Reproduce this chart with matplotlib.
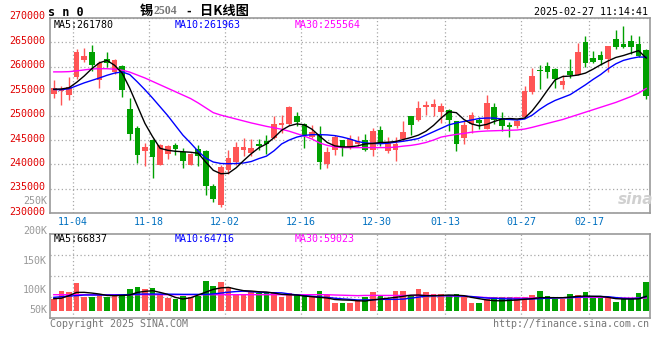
import numpy as np
import matplotlib
matplotlib.use('Agg')
import matplotlib.pyplot as plt
import matplotlib.transforms as mtransforms

# daily candles, left to right
opens  = [254420, 255110, 254290, 257840, 261320, 263090, 257360, 261520, 258860, 260160,
          251350, 247470, 242690, 244940, 239960, 242210, 244050, 242480, 239960, 243170,
          242760, 235660, 231770, 238940, 240510, 243030, 242350, 244260, 244870, 245420,
          248010, 248280, 249920, 248220, 245690, 246100, 240170, 243030, 245010, 243580,
          244190, 244940, 243030, 247060, 242690, 243030, 245280, 249920, 249170, 251830,
          251830, 250740, 251220, 248830, 245490, 248280, 249170, 247330, 251760, 249510,
          248150, 247810, 249750, 254830, 259400, 260090, 259540, 256340, 259200, 258380,
          265070, 261790, 262340, 261590, 265680, 264730, 265270, 264660, 263430]
highs  = [257360, 255990, 257840, 263640, 263840, 264520, 261110, 263090, 261520, 260430,
          253610, 247810, 244390, 245280, 244190, 244050, 244330, 243370, 242350, 244050,
          243030, 236070, 239960, 242890, 244600, 245420, 245210, 245280, 245960, 249850,
          250190, 251970, 250740, 248560, 248010, 247940, 243510, 246100, 245010, 245960,
          245760, 246240, 247470, 247880, 245560, 245560, 248900, 249920, 252990, 252990,
          253400, 252580, 251420, 248830, 248900, 250740, 249790, 254290, 252580, 250740,
          248690, 249170, 256000, 259750, 260430, 260970, 259750, 258380, 261590, 264860,
          266230, 263160, 263160, 264250, 267590, 268280, 266570, 266230, 263700]
lows   = [253610, 252100, 253260, 257500, 260970, 259060, 255650, 259880, 258520, 253810,
          245010, 240300, 239620, 237230, 239820, 241190, 241870, 239280, 239820, 239620,
          233820, 232320, 231360, 238050, 239960, 241670, 241670, 243030, 242210, 245280,
          246440, 248150, 247810, 243370, 245420, 239140, 239280, 242010, 241800, 243240,
          243710, 242690, 241670, 243710, 242420, 240780, 244870, 246100, 248830, 250060,
          249990, 248490, 246780, 242830, 244190, 246440, 247330, 247330, 248280, 246780,
          245560, 247470, 249510, 254420, 255520, 257700, 255650, 255520, 257700, 258250,
          259880, 260770, 260430, 258860, 263700, 263840, 262610, 261930, 253470]
closes = [255650, 255450, 255860, 263020, 262200, 260430, 260770, 260700, 261320, 255310,
          246240, 242010, 243510, 241600, 244050, 243780, 243240, 240640, 242210, 241670,
          235530, 232930, 239480, 241320, 243580, 243580, 243370, 243780, 244190, 248280,
          248560, 251700, 248690, 246100, 246650, 240510, 242550, 245620, 243580, 245280,
          244740, 242890, 246850, 244600, 244460, 244260, 246650, 248150, 251560, 252100,
          252380, 251970, 249100, 244260, 248080, 250060, 248420, 252580, 249170, 247940,
          247670, 248830, 255000, 258040, 259060, 258930, 257560, 257150, 258250, 263020,
          260770, 260970, 261450, 264250, 263980, 264110, 264110, 262130, 254080]
volumes = [54400, 93000, 87000, 128800, 65100, 65100, 73000, 65100, 66500, 69800,
           100900, 110200, 99000, 105600, 77700, 59100, 54400, 69800, 61800, 69800,
           138100, 114900, 133500, 108300, 75800, 75800, 85100, 80400, 80400, 85100,
           63700, 80400, 75800, 75800, 63700, 91600, 73000, 37200, 37200, 37200,
           49800, 65100, 87000, 73000, 55800, 91600, 91600, 69800, 100900, 88400,
           75800, 75800, 68400, 75800, 65100, 37200, 37200, 54400, 61800, 63700,
           61800, 61800, 61800, 73000, 91600, 69800, 54400, 54400, 77700, 73000,
           87000, 65100, 65100, 65100, 41900, 54400, 54400, 82300, 134900]

# moving averages as drawn on the chart
ma5  = [255400, 255450, 255700, 256800, 258100, 259600, 260800, 261300, 260300, 258700,
        255600, 252000, 248400, 245700, 243300, 242900, 242700, 242600, 242500, 242300,
        240500, 238800, 238100, 238200, 239300, 240800, 242200, 243400, 244200, 245500,
        247000, 247900, 248300, 248100, 247200, 245800, 244500, 243800, 243600, 243600,
        243800, 244200, 244300, 244500, 244550, 244700, 245100, 245500, 246000, 246800,
        248000, 249500, 250800, 250600, 249200, 248300, 247900, 248200, 248800, 249300,
        249400, 249300, 249500, 251000, 253000, 255200, 257300, 258000, 258100, 258300,
        258700, 259500, 260400, 261200, 261900, 262300, 262800, 263300, 261780]
ma10 = [255350, 255300, 255500, 256100, 256700, 257200, 257700, 258250, 258700, 258950,
        258400, 256900, 255300, 253600, 251800, 250000, 248000, 246000, 244400, 242700,
        241300, 240500, 240200, 240150, 240200, 240300, 240600, 241200, 241700, 242800,
        244200, 245000, 245600, 245950, 246100, 246100, 246050, 245900, 245600, 245200,
        244700, 244400, 244300, 244250, 244350, 244550, 244750, 245000, 245300, 246000,
        246700, 247400, 248100, 248500, 248800, 249100, 249400, 249500, 249500, 249300,
        249200, 249100, 249300, 250100, 251300, 252300, 253100, 253700, 254300, 255300,
        256300, 257400, 258400, 259600, 260600, 261300, 261700, 262000, 261963]
ma30 = [258950, 258950, 259000, 259150, 259350, 259550, 259600, 259600, 259500, 259300,
        258900, 258300, 257700, 257000, 256300, 255600, 254900, 254200, 253500, 252600,
        251600, 250600, 250100, 249700, 249300, 248900, 248500, 248150, 247800, 247500,
        247200, 246800, 246300, 245800, 245200, 244400, 243900, 243600, 243450, 243450,
        243450, 243450, 243450, 243450, 243450, 243550, 243750, 243900, 244150, 244500,
        245000, 245600, 245900, 246150, 246350, 246600, 246750, 246850, 246900, 246950,
        247000, 247050, 247250, 247600, 248000, 248400, 248800, 249200, 249700, 250200,
        250700, 251200, 251700, 252200, 252700, 253300, 253900, 254600, 255564]
vol_ma5  = [55800, 58000, 70000, 85000, 85300, 82000, 77500, 71000, 69800, 71000,
            72900, 85000, 90000, 93000, 85000, 76000, 62000, 54300, 60000, 72900,
            86000, 99200, 106000, 108500, 100000, 93000, 91500, 88000, 86800, 82000,
            76000, 74000, 72900, 68000, 65000, 62000, 58900, 52000, 50000, 49000,
            46000, 45000, 50000, 54000, 58000, 62000, 67000, 72000, 72900, 70000,
            69800, 71000, 72900, 72000, 69800, 62000, 55800, 50000, 46500, 46000,
            48000, 49600, 53000, 56000, 60500, 61000, 60500, 60500, 63000, 66700,
            68000, 67000, 66700, 62000, 56000, 54300, 54300, 55000, 66837]
vol_ma10 = [62000, 65000, 68000, 70000, 72900, 72900, 72900, 72900, 73000, 74000,
            75000, 77000, 77500, 77500, 77500, 77000, 76500, 76000, 76000, 76000,
            76000, 78000, 82000, 86000, 89000, 91000, 88000, 86000, 84000, 83700,
            83000, 78000, 73000, 70000, 67000, 64000, 62000, 58000, 55000, 52700,
            50000, 50000, 51000, 52700, 52700, 52700, 54000, 58000, 63000, 68000,
            69000, 69800, 69800, 69000, 68200, 66000, 62000, 59000, 57000, 55800,
            54500, 54300, 54300, 54300, 56000, 58000, 59000, 60500, 61000, 63000,
            65000, 66000, 66000, 65000, 61000, 57400, 56000, 58000, 64716]
vol_ma30 = [74400, 74400, 74400, 74400, 74400, 74400, 74400, 74400, 74400, 74400,
            74400, 74400, 74400, 74400, 74400, 74400, 74400, 74400, 74400, 74400,
            74400, 74400, 74400, 74400, 74400, 74400, 74400, 74400, 74400, 74400,
            74400, 74400, 74400, 74400, 74400, 74400, 74400, 73000, 72000, 71000,
            70000, 71000, 71000, 71000, 71000, 71000, 71000, 71000, 71000, 71000,
            71000, 70000, 69000, 68000, 67000, 65000, 63000, 61000, 58900, 58900,
            58900, 58900, 58900, 58900, 60500, 60500, 60500, 60500, 60500, 62000,
            62000, 62000, 62000, 62000, 59000, 59000, 59000, 59000, 59023]

date_labels = ['11-04', '11-18', '12-02', '12-16', '12-30', '01-13', '01-27', '02-17']
date_index  = [3, 13, 23, 33, 43, 52, 62, 71]
price_ticks = [230000, 235000, 240000, 245000, 250000, 255000, 260000, 265000, 270000]
vol_tick_labels = ['250K', '200K', '150K', '100K', '50K']

RED = '#FF5555'
GREEN = '#00A000'
GRID = '#A8A8A8'
FRAME = '#999999'
MONO = 'DejaVu Sans Mono'
CJK = ['Noto Sans CJK SC', 'DejaVu Sans']

n = len(closes)
x = np.arange(n)
o = np.array(opens); c = np.array(closes)
colors = [RED if c[i] >= o[i] else GREEN for i in range(n)]

W, H = 660, 360
fig = plt.figure(figsize=(6.6, 3.6), dpi=100)

def px(x0, y0, x1, y1):
    return [x0 / W, 1 - y1 / H, (x1 - x0) / W, (y1 - y0) / H]

ax = fig.add_axes(px(50, 17.9, 650, 213.3))
axv = fig.add_axes(px(50, 234.3, 650, 318.3))

# price panel
ax.vlines(x, lows, highs, colors=colors, linewidth=1)
body_low = np.minimum(o, c)
body_h = np.maximum(np.abs(c - o), 120)
ax.bar(x, body_h, bottom=body_low, width=0.74, color=colors, linewidth=0)
ax.plot(x, ma30, color='#FF00FF', lw=1)
ax.plot(x, ma10, color='#0000FF', lw=1)
ax.plot(x, ma5, color='black', lw=1)

ax.set_xlim(-0.5, n - 0.5)
ax.set_ylim(230000, 270000)
ax.set_yticks(price_ticks)
ax.set_yticklabels([str(t) for t in price_ticks])
ax.set_xticks([i - 0.5 for i in date_index])
ax.set_xticklabels(date_labels)
ax.tick_params(axis='y', length=0, pad=3.5, labelsize=7.2, labelcolor='#E00000')
ax.tick_params(axis='x', length=0, pad=3, labelsize=7.2, labelcolor='#0070C0')
for lab in ax.get_yticklabels() + ax.get_xticklabels():
    lab.set_family(MONO)
shift = mtransforms.ScaledTranslation(0, 0.025, fig.dpi_scale_trans)
for lab in ax.get_yticklabels():
    lab.set_transform(lab.get_transform() + shift)
ax.grid(True, color=GRID, linestyle=(0, (1, 2)), linewidth=0.9)
ax.set_axisbelow(True)

# volume panel, 0 sits a few pixels above the frame bottom
vlow, vhigh = -35350, 355250
axv.bar(x, volumes, width=0.74, color=colors, linewidth=0)
axv.plot(x, vol_ma30, color='#FF00FF', lw=1)
axv.plot(x, vol_ma10, color='#0000FF', lw=1)
axv.plot(x, vol_ma5, color='black', lw=1)
axv.set_xlim(-0.5, n - 0.5)
axv.set_ylim(vlow, vhigh)
axv.set_yticks([vlow + f * (vhigh - vlow) for f in (0.25, 0.5, 0.75)])
axv.set_xticks([i - 0.5 for i in date_index])
axv.tick_params(length=0, labelleft=False, labelbottom=False)
axv.grid(True, color=GRID, linestyle=(0, (1, 2)), linewidth=0.9)
axv.set_axisbelow(True)

for a in (ax, axv):
    for s in a.spines.values():
        s.set_color(FRAME)
        s.set_linewidth(1.2)

# volume labels sit where the original image puts them
for lab, yy in zip(vol_tick_labels, [201, 231, 261, 290, 310]):
    fig.text(47 / W, 1 - yy / H, lab, ha='right', va='center', fontsize=7.2,
             family=MONO, color='#999999')

# legends
for a, vals, yy in ((ax, ('MA5:261780', 'MA10:261963', 'MA30:255564'), 24.5),
                    (axv, ('MA5:66837', 'MA10:64716', 'MA30:59023'), 238.5)):
    for txt, xx, col in zip(vals, (54, 175, 295), ('black', '#0000FF', '#FF00FF')):
        fig.text(xx / W, 1 - yy / H, txt, ha='left', va='center', fontsize=7.2,
                 family=MONO, color=col)

# header
fig.text(48 / W, 1 - 12 / H, 's n 0', ha='left', va='center', fontsize=8.5,
         family=MONO, fontweight='bold', color='black')
fig.text(140 / W, 1 - 11 / H, '锡', ha='left', va='center', fontsize=9.5,
         family=CJK, fontweight='bold', color='black')
fig.text(153.5 / W, 1 - 11.5 / H, '2504', ha='left', va='center', fontsize=8.5,
         family='Liberation Serif', fontweight='bold', color='#777777')
fig.text(186 / W, 1 - 11 / H, '-', ha='left', va='center', fontsize=9,
         family=CJK, fontweight='bold', color='black')
fig.text(200 / W, 1 - 11 / H, '日K线图', ha='left', va='center', fontsize=9.5,
         family=CJK, fontweight='bold', color='black')
fig.text(648 / W, 1 - 12 / H, '2025-02-27 11:14:41', ha='right', va='center',
         fontsize=7.2, family=MONO, color='black')

# footer and watermark
fig.text(50 / W, 1 - 324 / H, 'Copyright 2025 SINA.COM', ha='left', va='center',
         fontsize=7.2, family=MONO, color='#777777')
fig.text(649 / W, 1 - 324 / H, 'http://finance.sina.com.cn', ha='right', va='center',
         fontsize=7.2, family=MONO, color='#777777')
fig.text(636 / W, 1 - 199 / H, 'sina', ha='center', va='center', fontsize=11,
         style='italic', fontweight='bold', color='#D0D0D0')

fig.savefig('out.png', dpi=100)
